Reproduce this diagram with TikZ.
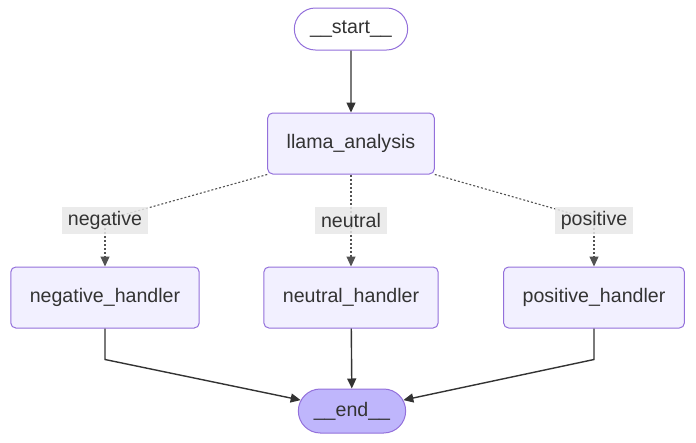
\documentclass[tikz,border=0pt]{standalone}
\usepackage{fontspec}
\setmainfont{Liberation Sans}
\usepackage{tikz}
\usetikzlibrary{arrows.meta, shapes.misc}

\definecolor{nodefill}{HTML}{F2F0FF}
\definecolor{nodeline}{HTML}{9370DB}
\definecolor{endfill}{HTML}{BFB6FC}
\definecolor{labelfill}{HTML}{E8E8E8}
\definecolor{txt}{HTML}{333333}

\tikzset{
	box/.style={draw=nodeline, fill=nodefill, line width=1pt, rounded corners=5pt, minimum height=61pt, inner xsep=19pt, text=txt},
	pill/.style={rounded rectangle, draw=nodeline, line width=1pt, text=txt},
	edgelabel/.style={fill=labelfill, fill opacity=0.85, text opacity=1, text=txt, inner xsep=6pt, minimum height=27pt},
	solidedge/.style={draw=txt, line width=1.4pt, -{Triangle[length=10pt,width=9pt]}},
	dottededge/.style={draw=txt!85, line width=1.1pt, dash pattern=on 2pt off 2pt}
}

\begin{document}
\begin{tikzpicture}[x=1pt, y=-1pt, font=\fontsize{19.6}{23}\selectfont]
				\useasboundingbox (0,0) rectangle (696,442);

				% nodes
				\node[pill, fill=white, minimum width=120pt, minimum height=42pt] (start) at (351,29) {\_\_start\_\_};
				\node[box] (llama) at (351,143.5) {llama\_analysis};
				\node[box] (neghandler) at (105,297.5) {negative\_handler};
				\node[box] (neuhandler) at (351,297.5) {neutral\_handler};
				\node[box] (poshandler) at (594,297.5) {positive\_handler};
				\node[pill, fill=endfill, minimum width=114pt, minimum height=44pt] (endn) at (352,411) {\_\_end\_\_};

				% label spots
				\coordinate (negspot) at (105,220);
				\coordinate (neuspot) at (351,220);
				\coordinate (posspot) at (594,220);

				\draw[solidedge] (start) -- (llama);

				\draw[dottededge] (llama.south west) -- (negspot);
				\draw[dottededge, -{Triangle[length=10pt,width=9pt]}] (negspot) -- (neghandler.north);
				\draw[dottededge, -{Triangle[length=10pt,width=9pt]}] (llama.south) -- (neuhandler.north);
				\draw[dottededge] (llama.south east) -- (posspot);
				\draw[dottededge, -{Triangle[length=10pt,width=9pt]}] (posspot) -- (poshandler.north);

				\node[edgelabel] (neglabel) at (negspot) {negative};
				\node[edgelabel] (neulabel) at (neuspot) {neutral};
				\node[edgelabel] (poslabel) at (posspot) {positive};

				\draw[solidedge] (neghandler.south) -- ++(0,31) -- (endn.168);
				\draw[solidedge] (neuhandler) -- (endn);
				\draw[solidedge] (poshandler.south) -- ++(0,31) -- (endn.12);
			\end{tikzpicture}
\end{document}
